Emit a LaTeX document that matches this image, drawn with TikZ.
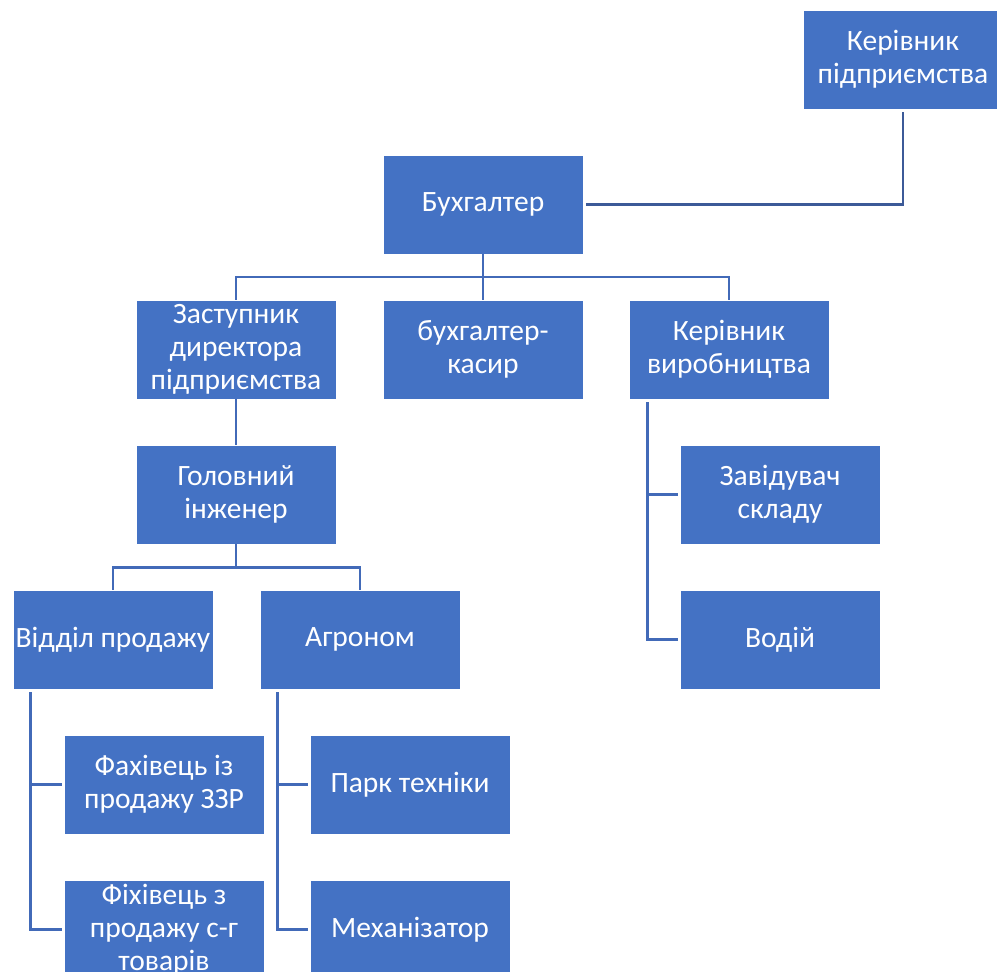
\documentclass[tikz,border=0pt]{standalone}
\usepackage{fontspec}
\setmainfont{Carlito}
\usepackage{tikz}
\usepackage{xcolor}

\definecolor{boxblue}{RGB}{68,114,196}
\definecolor{lineblue}{RGB}{66,106,184}
\definecolor{darkline}{RGB}{60,90,152}

\begin{document}
\begin{tikzpicture}[node distance={145pt}, line width=2.5pt,
  box/.style = {draw=white, line width=0.6pt, fill=boxblue, text=white, minimum width=200pt, minimum height=99pt, inner sep=1pt, align=center, font=\fontsize{29.5}{33}\selectfont},
  link/.style = {draw=lineblue}]
\useasboundingbox (0,0) rectangle (997pt,-972pt);
\node[box] (kerivnyk) at (903pt,-59.5pt) {Керівник\\підприємства};
\node[box] (buh) at (483pt,-204.5pt) {Бухгалтер};
\node[box] (kasyr) [below of=buh] {бухгалтер-\\касир};
\node[box] (zast) [left of=kasyr, node distance=247pt] {Заступник\\директора\\підприємства};
\node[box] (vyrob) [right of=kasyr, node distance=246pt] {Керівник\\виробництва};
\node[box] (holov) [below of=zast] {Головний\\інженер};
\node[box] (viddil) [below of=holov, xshift=-123pt] {Відділ продажу};
\node[box] (ahronom) [right of=viddil, node distance=247pt] {Агроном};
\node[box] (fakh) [below of=viddil, xshift=51pt] {Фахівець із\\продажу ЗЗР};
\node[box] (fikh) [below of=fakh] {Фіхівець з\\продажу с-г\\товарів};
\node[box] (park) [below of=ahronom, xshift=50pt] {Парк техніки};
\node[box] (mekh) [below of=park] {Механізатор};
\node[box] (zav) [below of=vyrob, xshift=51pt] {Завідувач\\складу};
\node[box] (vodiy) [below of=zav] {Водій};

\draw[darkline] ([xshift=3pt]buh.east) -| ([yshift=-3pt]kerivnyk.south);
\draw[link] (buh) -- (kasyr);
\draw[link] (zast.north) -- ++(0,22.5pt) -| (vyrob.north);
\draw[link] (zast) -- (holov);
\draw[link] (holov.south) -- ++(0,-23pt);
\draw[link] (viddil.north) -- ++(0,22pt) -| (ahronom.north);
\draw[link] ([xshift=18pt,yshift=-3pt]viddil.south west) |- ([xshift=-2pt]fakh.west);
\draw[link] ([xshift=18pt,yshift=-3pt]viddil.south west) |- ([xshift=-2pt]fikh.west);
\draw[link] ([xshift=18pt,yshift=-3pt]ahronom.south west) |- ([xshift=-2pt]park.west);
\draw[link] ([xshift=18pt,yshift=-3pt]ahronom.south west) |- ([xshift=-2pt]mekh.west);
\draw[link] ([xshift=19pt,yshift=-3pt]vyrob.south west) |- ([xshift=-2pt]zav.west);
\draw[link] ([xshift=19pt,yshift=-3pt]vyrob.south west) |- ([xshift=-2pt]vodiy.west);
\end{tikzpicture}
\end{document}
